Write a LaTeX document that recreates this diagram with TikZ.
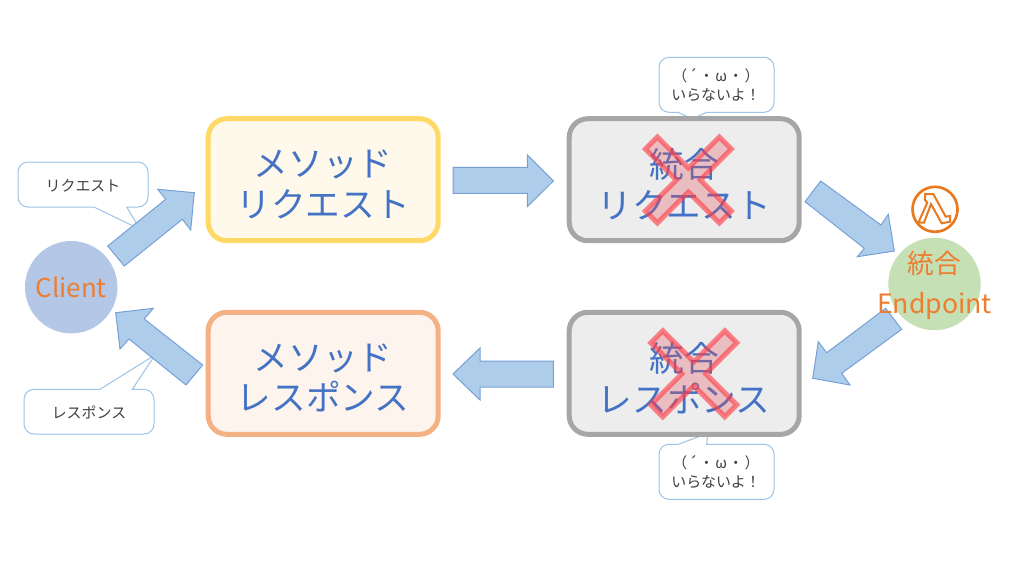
\documentclass[tikz,border=0pt]{standalone}
\usepackage{fontspec}
\setmainfont{Noto Sans CJK JP}
\definecolor{txtblue}{HTML}{4472C4}
\definecolor{txtorange}{HTML}{ED7D31}
\definecolor{txtgray}{HTML}{404040}
\definecolor{yellowline}{HTML}{FFD966}
\definecolor{yellowfill}{HTML}{FFF9EC}
\definecolor{orangeline}{HTML}{F4B183}
\definecolor{orangefill}{HTML}{FDF4EE}
\definecolor{grayline}{HTML}{A6A6A6}
\definecolor{grayfill}{HTML}{EDEDED}
\definecolor{arrowline}{HTML}{78A0D7}
\definecolor{arrowfill}{HTML}{AECDEB}
\definecolor{callline}{HTML}{9DC3E6}
\definecolor{clientfill}{HTML}{B4C7E7}
\definecolor{endpointfill}{HTML}{C5E0B4}
\definecolor{crossline}{HTML}{FF3C46}
\definecolor{crossfill}{HTML}{E6505A}
\definecolor{lambdaline}{HTML}{E8791F}
\tikzset{every picture/.style={line width=0.75pt}}
\tikzset{
	bigbox/.style={rounded corners=14pt,line width=3.75pt,minimum width=172.5pt,minimum height=91.5pt},
	yellowbox/.style={bigbox,draw=yellowline,fill=yellowfill},
	orangebox/.style={bigbox,draw=orangeline,fill=orangefill},
	graybox/.style={bigbox,draw=grayline,fill=grayfill},
	boxtext/.style={align=center,text=txtblue,font=\fontsize{26}{30.6}\selectfont},
	blockarrow/.style={draw=arrowline,fill=arrowfill},
	callout/.style={draw=callline,fill=white},
	calltext/.style={align=center,text=txtgray,font=\fontsize{11.2}{13.9}\selectfont},
	ballnode/.style={circle,minimum size=69.3pt,inner sep=0pt},
	balltext/.style={align=center,text=txtorange},
	crossmark/.style={draw=crossline,draw opacity=0.62,line width=3.75pt,fill=crossfill,fill opacity=0.3}
}

\begin{document}
\begin{tikzpicture}[x=0.75pt,y=0.75pt,yscale=-1,xscale=1]
	\useasboundingbox (0,0) rectangle (1024,576);

	%Shape: Speech Bubble
	\draw [callout,rounded corners=7.5pt] (18,184) -- (18,207) [sharp corners] -- (94,207) -- (140,229.3) -- (126.7,207) [rounded corners=7.5pt] -- (148,207) -- (148,162) -- (18,162) -- cycle ;
	%Shape: Speech Bubble
	\draw [callout,rounded corners=7.5pt] (24,412) -- (24,434) -- (154,434) -- (154,389.3) [sharp corners] -- (132.3,389.3) -- (155,355) -- (100,389.3) [rounded corners=7.5pt] -- (24,389.3) -- cycle ;
	%Shape: Speech Bubble
	\draw [callout,rounded corners=7.5pt] (659,85) -- (659,112.3) [sharp corners] -- (678,112.3) -- (692.3,119) -- (706.7,112.3) [rounded corners=7.5pt] -- (774,112.3) -- (774,57.3) -- (659,57.3) -- cycle ;
	%Shape: Speech Bubble
	\draw [callout,rounded corners=7.5pt] (659,472) -- (659,499.3) -- (774,499.3) -- (774,444.3) [sharp corners] -- (706.7,444.3) -- (707.7,433.3) -- (678.3,444.3) [rounded corners=7.5pt] -- (659,444.3) -- cycle ;

	%Shape: Rounded Rectangle
	\node [yellowbox] (methodreq) at (323.2,179.7) {};
	\node [graybox] (integreq) at (684.2,179.7) {};
	\node [orangebox] (methodres) at (323.2,373.3) {};
	\node [graybox] (integres) at (684.2,373.3) {};

	%Shape: Circle
	\node [ballnode,fill=clientfill] (client) at (71.2,287.2) {};
	\node [ballnode,fill=endpointfill] (endpoint) at (934.5,284) {};

	%Shape: Right Arrow
	\draw [blockarrow] (107.7,246) -- (165.7,199.3) -- (157.7,189.3) -- (194.3,192.7) -- (190.7,230) -- (182.3,219.3) -- (124.3,266) -- cycle ;
	\draw [blockarrow] (453,167.3) -- (527.3,167.3) -- (527.3,155) -- (553.3,181) -- (527.3,206.7) -- (527.3,193.3) -- (453,193.3) -- cycle ;
	\draw [blockarrow] (805,201.7) -- (864.3,248.3) -- (857.3,256.7) -- (894.3,251) -- (888.3,214.3) -- (881,225) -- (820.7,181) -- cycle ;
	\draw [blockarrow] (885.7,308.3) -- (826.7,352.7) -- (818.3,341.7) -- (812.7,378.3) -- (850,385) -- (841.7,373.3) -- (901.7,329.3) -- cycle ;
	\draw [blockarrow] (553.3,361) -- (480,361) -- (480,348) -- (453,374) -- (480,400) -- (480,387) -- (553.3,387) -- cycle ;
	\draw [blockarrow] (202.7,365) -- (144.3,319) -- (153.3,308.3) -- (115.7,312.7) -- (120,349) -- (129,339) -- (186,385) -- cycle ;

	% Text Node
	\node [boxtext] (methodreqtext) at (323.2,184.2) {メソッド\\リクエスト};
	% Text Node
	\node [boxtext] (integreqtext) at (684.2,184.2) {統合\\リクエスト};
	% Text Node
	\node [boxtext] (methodrestext) at (323.2,377.8) {メソッド\\レスポンス};
	% Text Node
	\node [boxtext] (integrestext) at (684.2,377.8) {統合\\レスポンス};

	%Shape: Cross
	\foreach \cx/\cy in {688.3/180,693.8/373.8}{
		\draw [crossmark] (\cx-43,\cy-31) -- (\cx-31,\cy-43) -- (\cx,\cy-12) -- (\cx+31,\cy-43) -- (\cx+43,\cy-31) -- (\cx+12,\cy) -- (\cx+43,\cy+31) -- (\cx+31,\cy+43) -- (\cx,\cy+12) -- (\cx-31,\cy+43) -- (\cx-43,\cy+31) -- (\cx-12,\cy) -- cycle ;
	}

	%Shape: Circle
	\draw [draw=lambdaline,line width=2pt] (935,209.3) circle (22.5) ;
	%Shape: Polygon
	\draw [draw=lambdaline,line width=1.5pt] (925,194) -- (933.3,194) -- (945.7,216.7) -- (950,216) -- (950,221.7) -- (941.7,223.3) -- (931,204) -- (924,222.7) -- (918.3,222.7) -- (927.3,202.7) -- (925,200) -- cycle ;

	% Text Node
	\node [balltext,font=\fontsize{19.5}{24}\selectfont] (clienttext) at (client) {Client};
	% Text Node
	\node [balltext,font=\fontsize{20}{30}\selectfont] (endpointtext) at (934.5,285) {統合\\Endpoint};
	% Text Node
	\node [calltext] (reqtext) at (83,185.5) {リクエスト};
	% Text Node
	\node [calltext] (restext) at (89,412) {レスポンス};
	% Text Node
	\node [calltext] (needtop) at (716,85) {（\kern1pt´\kern1pt・\kern1ptω\kern1pt・\kern1pt）\\いらないよ！};
	% Text Node
	\node [calltext] (needbottom) at (716,472) {（\kern1pt´\kern1pt・\kern1ptω\kern1pt・\kern1pt）\\いらないよ！};
\end{tikzpicture}
\end{document}
